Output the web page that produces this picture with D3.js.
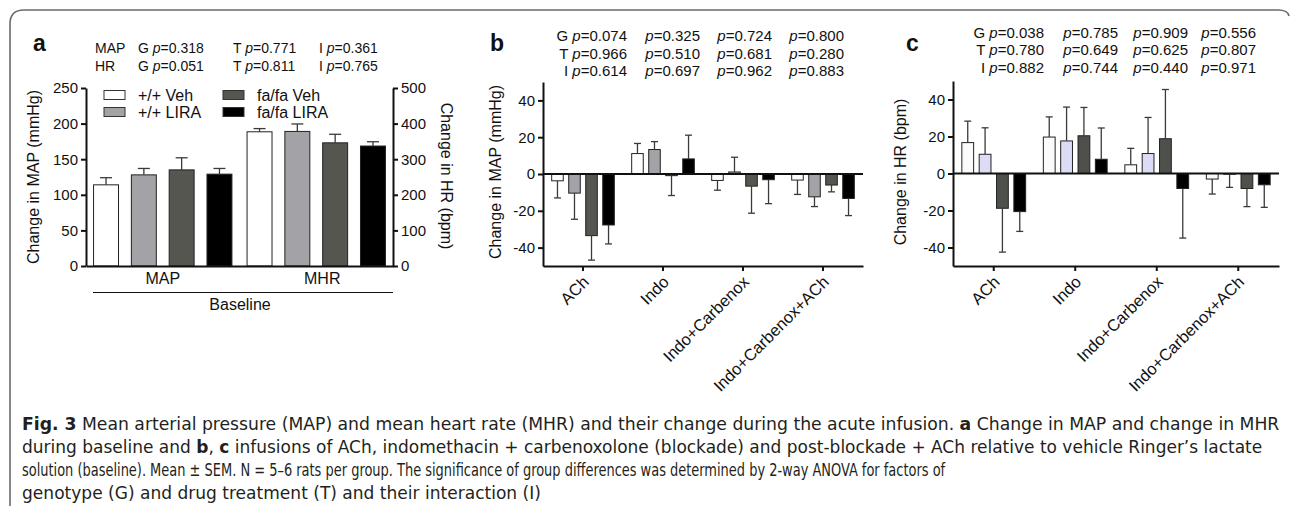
<!DOCTYPE html>
<html>
<head>
<meta charset="utf-8">
<script src="https://cdn.jsdelivr.net/npm/d3@7"></script>
<style>
  body { margin: 0; background: #fff; }
  svg { display: block; font-family: "Liberation Sans", Arial, Helvetica, sans-serif; }
  .axis path, .axis line { stroke: #111; stroke-width: 2; }
  .axis text { font-size: 15px; fill: #111; font-family: "Liberation Sans", Arial, sans-serif; }
  .caption { font-family: "DejaVu Sans Condensed", "DejaVu Sans", sans-serif; font-size: 17px; fill: #231f20; }
</style>
</head>
<body>
<svg id="fig" width="1290" height="506"></svg>
<script>
// ---- data ----
const series = ["+/+ Veh", "+/+ LIRA", "fa/fa Veh", "fa/fa LIRA"];
const baselineGroups = ["MAP", "MHR"];
const mapBaselineMean = [114, 128, 135, 129];
const mapBaselineSem = [10, 9, 17, 8];
const hrBaselineMean = [377, 378, 346, 337];
const hrBaselineSem = [9, 21, 24, 12];

const infusions = ["ACh", "Indo", "Indo+Carbenox", "Indo+Carbenox+ACh"];
// rows = infusion, columns = series
const mapChangeMean = [[-3.7, -10.4, -33.5, -27.7], [11.1, 13.3, -0.9, 8.2], [-3.5, 1.1, -6.6, -3.1], [-3.3, -12.4, -6.0, -13.3]];
const mapChangeSem = [[9.3, 14.2, 13.3, 10.3], [5.5, 4.3, 10.8, 12.9], [5.3, 8.0, 14.7, 13.0], [7.8, 5.3, 3.7, 9.3]];
const hrChangeMean = [[16.7, 10.4, -18.8, -20.6], [19.7, 17.6, 20.4, 7.7], [4.7, 10.8, 18.8, -8.1], [-3.0, -0.4, -8.1, -6.1]];
const hrChangeSem = [[11.6, 14.3, 23.7, 10.7], [10.9, 18.3, 15.3, 16.9], [8.9, 19.5, 26.6, 26.8], [8.1, 7.1, 9.8, 12.2]];

const mapTicks = [0, 50, 100, 150, 200, 250];
const hrTicks = [0, 100, 200, 300, 400, 500];
const changeTicks = [-40, -20, 0, 20, 40];

const statsA = [["MAP", "0.318", "0.771", "0.361"], ["HR", "0.051", "0.811", "0.765"]];
const statsB = [["G", "0.074", "0.325", "0.724", "0.800"], ["T", "0.966", "0.510", "0.681", "0.280"], ["I", "0.614", "0.697", "0.962", "0.883"]];
const statsC = [["G", "0.038", "0.785", "0.909", "0.556"], ["T", "0.780", "0.649", "0.625", "0.807"], ["I", "0.882", "0.744", "0.440", "0.971"]];

const captionLines = [
  [["Fig. 3", true], ["  Mean arterial pressure (MAP) and mean heart rate (MHR) and their change during the acute infusion. ", false], ["a", true], [" Change in MAP and change in MHR", false]],
  [["during baseline and ", false], ["b", true], [", ", false], ["c", true], [" infusions of ACh, indomethacin + carbenoxolone (blockade) and post-blockade + ACh relative to vehicle Ringer\u2019s lactate", false]],
  [["solution (baseline). Mean \u00b1 SEM. N = 5\u20136 rats per group. The significance of group differences was determined by 2-way ANOVA for factors of", false]],
  [["genotype (G) and drug treatment (T) and their interaction (I)", false]]
];

const colorsAB = ["#ffffff", "#a2a2a7", "#555650", "#000000"];
const colorsC = ["#fbfbfb", "#dcdcf7", "#4e504b", "#000000"];

// ---- drawing ----
const svg = d3.select("#fig");

svg.append("path")
  .attr("d", "M10,512 V24 Q10,10 24,10 H1278 Q1288,10 1289,16")
  .attr("fill", "none")
  .attr("stroke", "#6b6b6b")
  .attr("stroke-width", 1.6);

function panelLetter(x, t) {
  svg.append("text")
    .attr("x", x).attr("y", 51)
    .attr("font-size", 23).attr("font-weight", "bold").attr("fill", "#111")
    .text(t);
}

function statText(x, y, prefix, val, anchor, size) {
  let t = svg.append("text")
    .attr("x", x).attr("y", y)
    .attr("text-anchor", anchor)
    .attr("font-size", size)
    .attr("fill", "#111");
  if (prefix) t.append("tspan").text(prefix + " ");
  t.append("tspan").attr("font-style", "italic").text("p");
  t.append("tspan").text("=" + val);
}

function drawBars(g, rows, yScale, colors) {
  g.selectAll("rect.bar")
    .data(rows)
    .join("rect")
      .attr("class", "bar")
      .attr("x", d => d.x)
      .attr("width", d => d.w)
      .attr("y", d => Math.min(yScale(0), yScale(d.v)))
      .attr("height", d => Math.abs(yScale(d.v) - yScale(0)))
      .attr("fill", d => colors[d.s])
      .attr("stroke", "#222")
      .attr("stroke-width", 1);
}

function drawErrors(g, rows, yScale, capW) {
  let eb = g.selectAll("g.err")
    .data(rows)
    .join("g")
      .attr("class", "err")
      .attr("stroke", "#3a3a3a")
      .attr("stroke-width", 1.3);
  eb.append("line")
    .attr("x1", d => d.x + d.w / 2).attr("x2", d => d.x + d.w / 2)
    .attr("y1", d => yScale(d.v))
    .attr("y2", d => yScale(d.v + (d.v < 0 ? -d.e : d.e)));
  eb.append("line")
    .attr("x1", d => d.x + d.w / 2 - capW / 2).attr("x2", d => d.x + d.w / 2 + capW / 2)
    .attr("y1", d => yScale(d.v + (d.v < 0 ? -d.e : d.e)))
    .attr("y2", d => yScale(d.v + (d.v < 0 ? -d.e : d.e)));
}

function rotatedTitle(x, y, angle, t) {
  svg.append("text")
    .attr("transform", "translate(" + x + "," + y + ") rotate(" + angle + ")")
    .attr("text-anchor", "middle")
    .attr("dy", "0.35em")
    .attr("font-size", 16)
    .attr("fill", "#111")
    .text(t);
}

// ---------- panel a ----------
panelLetter(33, "a");
statsA.forEach((row, i) => {
  let y = 53 + i * 18;
  svg.append("text").attr("x", 95).attr("y", y).attr("font-size", 14).attr("fill", "#111").text(row[0]);
  statText(138, y, "G", row[1], "start", 14);
  statText(233, y, "T", row[2], "start", 14);
  statText(319, y, "I", row[3], "start", 14);
});

const aX = d3.scaleBand().domain(baselineGroups).range([86, 393]);
const aX1 = d3.scaleBand().domain(series).range([0, aX.bandwidth()]).paddingInner(0.34).paddingOuter(0.2);
const yMap = d3.scaleLinear().domain([0, 250]).range([266, 88]);
const yHr = d3.scaleLinear().domain([0, 500]).range([266, 88]);

const aRows = series.map((s, i) => ({ s: i, x: aX("MAP") + aX1(s), w: aX1.bandwidth(), v: mapBaselineMean[i], e: mapBaselineSem[i] }));
const aRowsHr = series.map((s, i) => ({ s: i, x: aX("MHR") + aX1(s), w: aX1.bandwidth(), v: hrBaselineMean[i], e: hrBaselineSem[i] }));

const gA = svg.append("g");
const gA2 = svg.append("g");
drawBars(gA, aRows, yMap, colorsAB);
drawErrors(gA, aRows, yMap, 12);
drawBars(gA2, aRowsHr, yHr, colorsAB);
drawErrors(gA2, aRowsHr, yHr, 12);

svg.append("g").attr("class", "axis")
  .attr("transform", "translate(86,0)")
  .call(d3.axisLeft(yMap).tickValues(mapTicks).tickSize(5).tickSizeOuter(0));
svg.append("g").attr("class", "axis")
  .attr("transform", "translate(393,0)")
  .call(d3.axisRight(yHr).tickValues(hrTicks).tickSize(5).tickSizeOuter(0));
svg.append("g").attr("class", "axis")
  .attr("transform", "translate(0,266)")
  .call(d3.axisBottom(aX).tickSize(0).tickPadding(7).tickSizeOuter(0))
  .selectAll("text")
    .style("font-size", "16px")
    .attr("dx", (d, i) => i * 6);

svg.append("line").attr("x1", 93).attr("x2", 393).attr("y1", 292.5).attr("y2", 292.5)
  .attr("stroke", "#111").attr("stroke-width", 1.2);
svg.append("text").attr("x", 240).attr("y", 310).attr("text-anchor", "middle")
  .attr("font-size", 16).attr("fill", "#111").text("Baseline");

rotatedTitle(33, 177, -90, "Change in MAP (mmHg)");
rotatedTitle(447, 176, 90, "Change in HR (bpm)");

// legend
const legend = svg.append("g").selectAll("g")
  .data(series)
  .join("g")
    .attr("transform", (d, i) => "translate(" + (104 + Math.floor(i / 2) * 119) + "," + (90.5 + (i % 2) * 17) + ")");
legend.append("rect")
  .attr("width", 21).attr("height", 9)
  .attr("fill", (d, i) => colorsAB[i])
  .attr("stroke", "#333").attr("stroke-width", 1);
legend.append("text")
  .attr("x", 34).attr("y", 10)
  .attr("font-size", 16).attr("fill", "#111")
  .text(d => d);

// ---------- panels b, c ----------
function changePanel(cfg) {
  panelLetter(cfg.letterX, cfg.letter);
  cfg.stats.forEach((row, r) => {
    let y = cfg.statY + r * 17.7;
    statText(cfg.statX[0], y, row[0], row[1], "end", 15);
    for (let k = 2; k < row.length; k++) statText(cfg.statX[k - 1], y, null, row[k], "end", 15);
  });

  const x0 = d3.scaleBand().domain(infusions).range(cfg.xRange);
  const x1 = d3.scaleBand().domain(series).range([0, x0.bandwidth()]).paddingInner(0.32).paddingOuter(0.51);
  const y = d3.scaleLinear().domain([-50, 50]).range(cfg.yRange);

  const rows = [];
  infusions.forEach((inf, j) => {
    series.forEach((s, i) => {
      rows.push({ s: i, x: x0(inf) + x1(s), w: x1.bandwidth(), v: cfg.mean[j][i], e: cfg.sem[j][i] });
    });
  });

  const g = svg.append("g");
  drawBars(g, rows, y, cfg.colors);
  g.append("line")
    .attr("x1", cfg.xRange[0]).attr("x2", cfg.xRange[1])
    .attr("y1", y(0)).attr("y2", y(0))
    .attr("stroke", "#111").attr("stroke-width", 2);
  drawErrors(g, rows, y, 7);

  svg.append("g").attr("class", "axis")
    .attr("transform", "translate(" + cfg.xRange[0] + ",0)")
    .call(d3.axisLeft(y).tickValues(changeTicks).tickSize(5).tickSizeOuter(0).tickFormat(d => String(d)));

  svg.append("g").attr("class", "axis")
    .attr("transform", "translate(0," + cfg.yRange[0] + ")")
    .call(d3.axisBottom(x0).tickSize(5).tickSizeOuter(0))
    .selectAll("text")
      .attr("x", 0).attr("y", 0).attr("dy", 0)
      .attr("text-anchor", "end")
      .style("font-size", "16.5px")
      .attr("transform", "translate(7,17) rotate(-45)");

  rotatedTitle(cfg.titleX, 172, -90, cfg.title);
}

changePanel({
  letter: "b", letterX: 490,
  stats: statsB, statX: [627, 700, 772, 844], statY: 41,
  xRange: [543, 863], yRange: [266, 82],
  mean: mapChangeMean, sem: mapChangeSem, colors: colorsAB,
  title: "Change in MAP (mmHg)", titleX: 495
});

changePanel({
  letter: "c", letterX: 906,
  stats: statsC, statX: [1044, 1118, 1188, 1256], statY: 37.5,
  xRange: [953, 1279], yRange: [266, 81],
  mean: hrChangeMean, sem: hrChangeSem, colors: colorsC,
  title: "Change in HR (bpm)", titleX: 900
});

// ---------- caption ----------
// each line is squeezed horizontally so it ends where the printed line ends
const captionEnds = [1280, 1263, 946, 541];
captionLines.forEach((line, i) => {
  let t = svg.append("text")
    .attr("class", "caption")
    .attr("x", 0)
    .attr("y", 0);
  line.forEach(seg => {
    t.append("tspan").attr("font-weight", seg[1] ? "bold" : null).text(seg[0]);
  });
  let natural = t.node().getComputedTextLength();
  let sx = (captionEnds[i] - 22) / natural;
  t.attr("transform", "translate(22," + (430 + i * 23) + ") scale(" + sx + ",1)");
});
</script>
</body>
</html>
